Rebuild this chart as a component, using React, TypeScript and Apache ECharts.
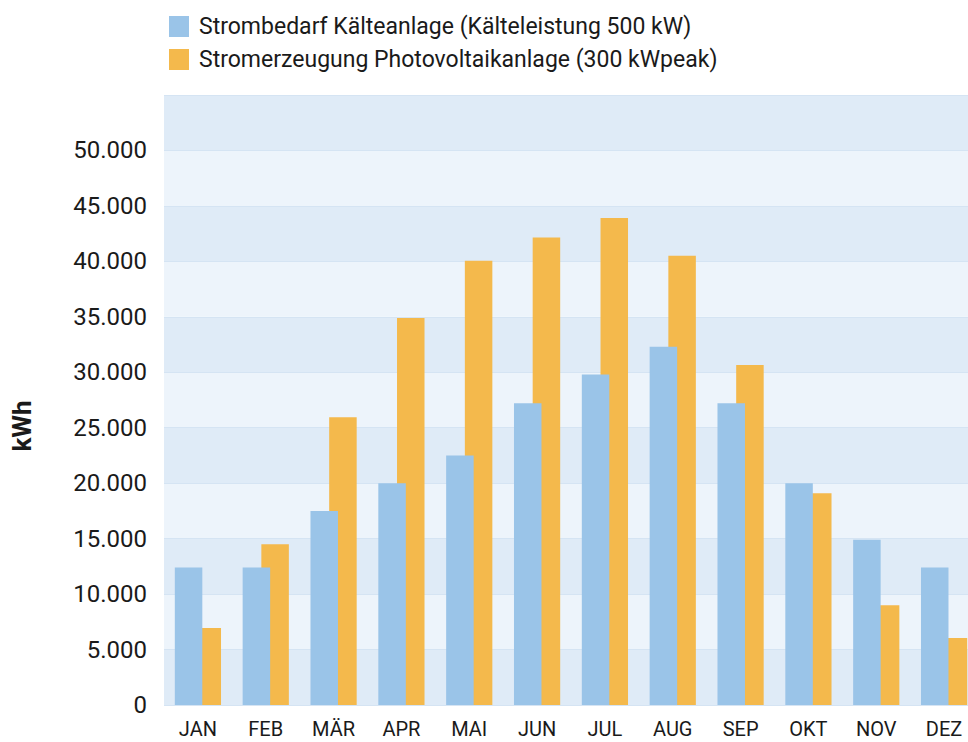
import React, { useEffect, useRef } from "react";
import * as echarts from "echarts";

const months = ["JAN", "FEB", "MÄR", "APR", "MAI", "JUN", "JUL", "AUG", "SEP", "OKT", "NOV", "DEZ"];
const demand = [12400, 12400, 17500, 20000, 22500, 27200, 29800, 32300, 27200, 20000, 14900, 12400];
const production = [6950, 14500, 25950, 34900, 40050, 42150, 43900, 40500, 30650, 19100, 9000, 6050];
const seriesNames = [
  "Strombedarf Kälteanlage (Kälteleistung 500 kW)",
  "Stromerzeugung Photovoltaikanlage (300 kWpeak)",
];

const FONT = "Roboto, 'Noto Sans', sans-serif";

export default function App() {
  const ref = useRef<HTMLDivElement>(null);
  useEffect(() => {
    if (!ref.current) return;
    const chart = echarts.init(ref.current, undefined, { renderer: "svg" });
    chart.setOption({
      animation: false,
      textStyle: { fontFamily: FONT },
      legend: {
        orient: "vertical",
        left: 164,
        top: 10,
        itemWidth: 20,
        itemHeight: 21,
        itemGap: 10,
        icon: "rect",
        textStyle: { fontSize: 23, color: "#1a1a1a", fontFamily: FONT, padding: [0, 0, 0, 5] },
        data: seriesNames,
      },
      grid: { left: 164, right: 0, top: 95, bottom: 37, containLabel: false },
      xAxis: {
        type: "category",
        data: months,
        axisLine: { show: false },
        axisTick: { show: false },
        axisLabel: { fontSize: 20, color: "#1a1a1a", margin: 14, fontFamily: FONT },
      },
      yAxis: {
        type: "value",
        min: 0,
        max: 55000,
        interval: 5000,
        axisLine: { show: false },
        axisTick: { show: false },
        axisLabel: {
          fontSize: 24,
          color: "#1a1a1a",
          margin: 17,
          fontFamily: FONT,
          formatter: (v: number) => (v >= 55000 ? "" : v.toLocaleString("de-DE")),
        },
        splitLine: { show: true, lineStyle: { color: "#d5e4f3", width: 1 } },
        splitArea: { show: true, areaStyle: { color: ["#dfebf7", "#edf4fb"] } },
      },
      graphic: [
        {
          type: "text",
          x: 22,
          y: 426,
          rotation: Math.PI / 2,
          style: {
            text: "kWh",
            fontSize: 26,
            fontWeight: "bold",
            fill: "#1a1a1a",
            fontFamily: FONT,
            align: "center",
            verticalAlign: "middle",
          },
        },
      ],
      series: [
        {
          name: seriesNames[0],
          type: "bar",
          data: demand,
          barWidth: 27.5,
          barGap: "-32%",
          z: 3,
          itemStyle: { color: "#9ac4e8" },
        },
        {
          name: seriesNames[1],
          type: "bar",
          data: production,
          barWidth: 27.5,
          z: 2,
          itemStyle: { color: "#f4b94c" },
        },
      ],
    });
    return () => chart.dispose();
  }, []);
  return (
    <div style={{ position: "fixed", left: 0, top: 0, width: 968, height: 742, overflow: "hidden", background: "#fff" }}>
      <div ref={ref} style={{ width: 978, height: 742 }} />
    </div>
  );
}
